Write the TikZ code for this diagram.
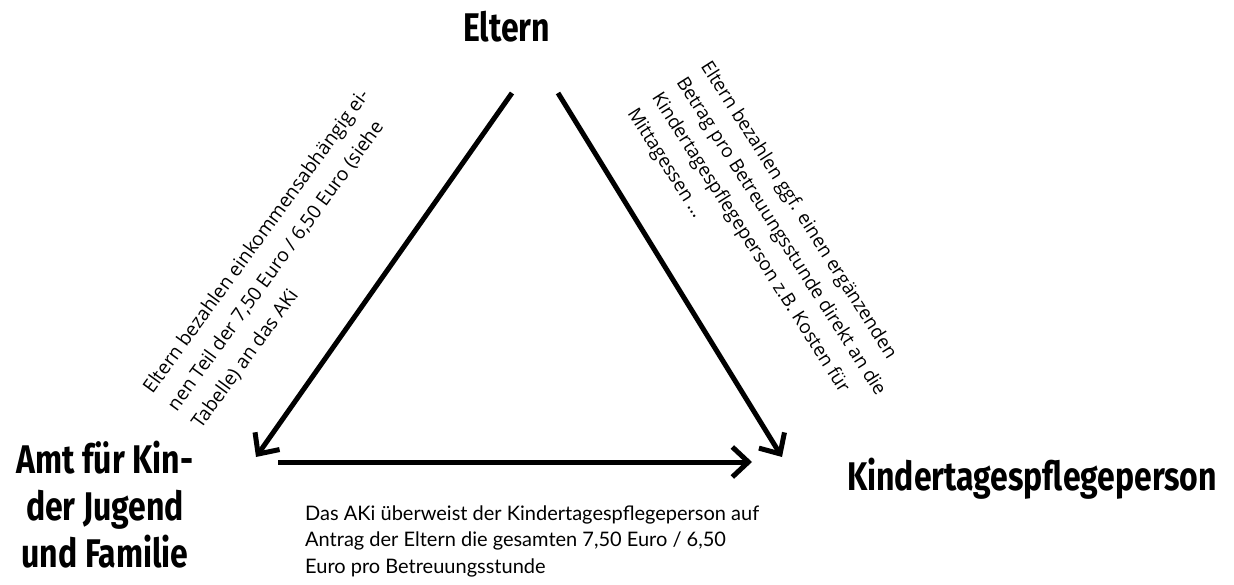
\documentclass[tikz,border=0pt]{standalone}
\usepackage{fontspec}
\usetikzlibrary{arrows.meta}
\newfontfamily\headfont{Fira Sans}[FakeStretch=0.8]
\newfontfamily\notefont{Open Sans}
\newfontfamily\bottomfont{Lato}
\begin{document}
\begin{tikzpicture}[x=1pt,y=-1pt,
  head/.style={font=\headfont\bfseries\fontsize{40}{47}\selectfont, inner sep=0pt},
  note/.style={font=\notefont\fontsize{18.8}{29}\selectfont, inner sep=0pt, align=left},
  lnote/.style={font=\notefont\fontsize{19.2}{30}\selectfont, inner sep=0pt, align=left},
  bottomnote/.style={font=\bottomfont\fontsize{20}{26.5}\selectfont, inner sep=0pt, align=left},
  flow/.style={line width=5pt, -{Straight Barb[length=16pt,width=30pt]}}
]
\useasboundingbox (0,0) rectangle (1234,585);
\node[head, anchor=base west] (eltern) at (463,42) {Eltern};
\node[head, anchor=base, align=center] (amt) at (105,567) {Amt für Kin-\\der Jugend\\und Familie};
\node[head, anchor=base west] (ktp) at (847,490) {Kindertagespflegeperson};
\node[lnote, rotate=54, anchor=base west] (lt) at (201,430)
  {Eltern bezahlen einkommensabhängig ei-\\nen Teil der 7,50 Euro / 6,50 Euro (siehe\\Tabelle) an das AKi};
\node[note, rotate=-57.5, anchor=base west] (rt) at (627,113)
  {Eltern bezahlen ggf. einen ergänzenden\\Betrag pro Betreuungsstunde direkt an die\\Kindertagespflegeperson z.B. Kosten für\\Mittagessen …};
\node[bottomnote, anchor=base west] (bt) at (305,573)
  {Das AKi überweist der Kindertagespflegeperson auf\\Antrag der Eltern die gesamten 7,50 Euro / 6,50\\Euro pro Betreuungsstunde};
\coordinate (l1) at (512,93);
\coordinate (l2) at (256,457);
\coordinate (r1) at (558,93);
\coordinate (r2) at (782,457);
\coordinate (b1) at (278,462);
\coordinate (b2) at (752,462);
\draw[flow] (l1) -- (l2);
\draw[flow] (r1) -- (r2);
\draw[flow] (b1) -- (b2);
\end{tikzpicture}
\end{document}
